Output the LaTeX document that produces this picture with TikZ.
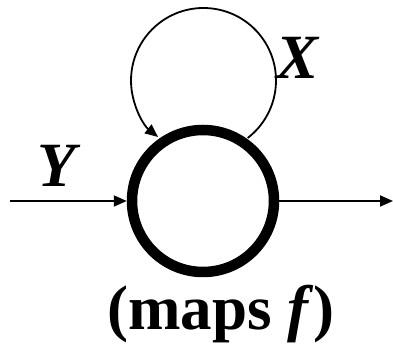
\documentclass[tikz,border=0pt]{standalone}
\usepackage{fontspec}
\setmainfont{Liberation Serif}
\usetikzlibrary{arrows.meta, calc}

\begin{document}
\begin{tikzpicture}[x=1pt, y=1pt,
	sig/.style={line width=1.8pt, -{Triangle[length=13pt, width=11pt]}},
	lab/.style={font=\fontsize{63}{70}\selectfont\bfseries\itshape, inner sep=0pt}]
	\useasboundingbox (0,0) rectangle (393,344);
	\node[circle, draw, line width=10.5pt, minimum size=142pt, inner sep=0pt] (f) at (203,143) {};
	% loop
	\coordinate (loopc) at (203.5,263.5);
	\draw[sig] ($(loopc)+(-52.4:72.5)$) arc[start angle=-52.4, end angle=231.2, radius=72.5];
	% in and out
	\coordinate (in) at (10,143);
	\coordinate (out) at (393,143);
	\draw[sig] (in) -- (f.west);
	\draw[sig] (f.east) -- (out);
	\node[lab] (y) at (57,178) {Y};
	\node[lab] (x) at (298,286) {X};
	\node[font=\fontsize{63}{70}\selectfont\bfseries, inner sep=0pt, anchor=base] (name) at (221,14) {(maps \textit{f})};
\end{tikzpicture}
\end{document}
